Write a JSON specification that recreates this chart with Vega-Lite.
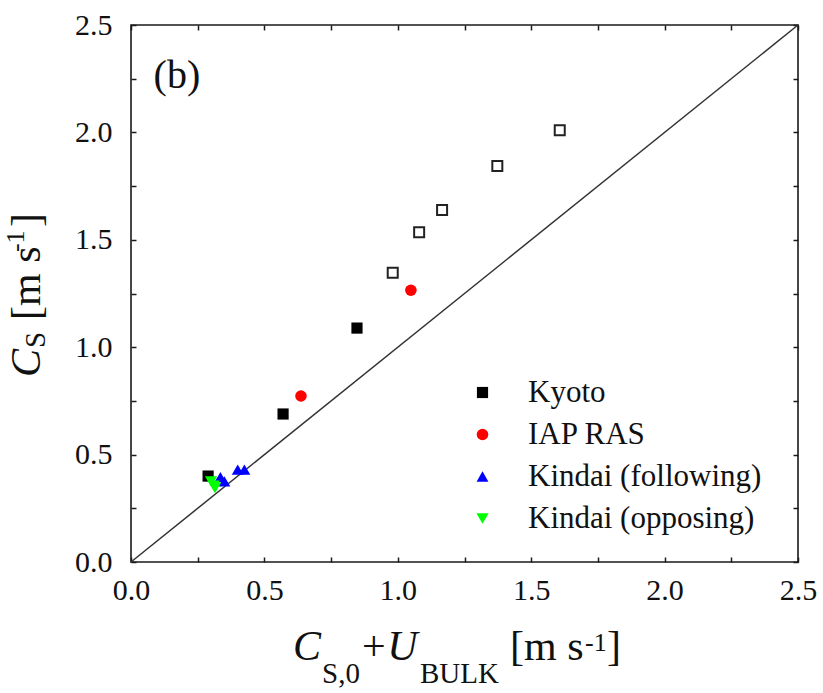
{
  "$schema": "https://vega.github.io/schema/vega-lite/v6.json",
  "width": 667,
  "height": 537,
  "autosize": {"type": "none"},
  "padding": {"left": 131, "top": 25, "right": 25, "bottom": 131},
  "background": "white",
  "config": {
    "view": {"stroke": "#1a1a1a", "strokeWidth": 1.6},
    "font": "Times New Roman, Liberation Serif, serif",
    "legend": {"labelFont": "Times New Roman, Liberation Serif, serif"},
    "text": {"font": "Times New Roman, Liberation Serif, serif"}
  },
  "datasets": {
    "line": [{"x": 0, "y": 0}, {"x": 2.5, "y": 2.5}],
    "pts": [
      {"x": 0.289, "y": 0.40, "series": "Kyoto"},
      {"x": 0.570, "y": 0.689, "series": "Kyoto"},
      {"x": 0.847, "y": 1.089, "series": "Kyoto"},
      {"x": 0.637, "y": 0.773, "series": "IAP RAS"},
      {"x": 1.049, "y": 1.265, "series": "IAP RAS"},
      {"x": 0.400, "y": 0.430, "series": "Kindai (following)"},
      {"x": 0.425, "y": 0.430, "series": "Kindai (following)"},
      {"x": 0.335, "y": 0.395, "series": "Kindai (following)"},
      {"x": 0.350, "y": 0.375, "series": "Kindai (following)"},
      {"x": 0.300, "y": 0.375, "series": "Kindai (opposing)"},
      {"x": 0.310, "y": 0.355, "series": "Kindai (opposing)"},
      {"x": 0.315, "y": 0.345, "series": "Kindai (opposing)"}
    ],
    "open": [
      {"x": 0.981, "y": 1.347},
      {"x": 1.080, "y": 1.535},
      {"x": 1.166, "y": 1.639},
      {"x": 1.373, "y": 1.844},
      {"x": 1.607, "y": 2.010}
    ],
    "panel": [{"text": "(b)", "x": 0.172, "y": 2.207}],
    "xtitle": [
      {"kind": "it", "text": "C", "x": 0.607, "y": -0.456},
      {"kind": "sub", "text": "S,0", "x": 0.716, "y": -0.563},
      {"kind": "rm", "text": "+", "x": 0.866, "y": -0.456},
      {"kind": "it", "text": "U", "x": 0.960, "y": -0.456},
      {"kind": "sub", "text": "BULK", "x": 1.083, "y": -0.563},
      {"kind": "rm", "text": "[m s", "x": 1.421, "y": -0.456},
      {"kind": "sup", "text": "-1", "x": 1.702, "y": -0.414},
      {"kind": "rm", "text": "]", "x": 1.784, "y": -0.456}
    ],
    "ytitle": [
      {"kind": "it", "text": "C", "x": -0.341, "y": 0.861},
      {"kind": "sub", "text": "S", "x": -0.322, "y": 0.996},
      {"kind": "rm", "text": "[m s", "x": -0.341, "y": 1.127},
      {"kind": "sup", "text": "-1", "x": -0.401, "y": 1.443},
      {"kind": "rm", "text": "]", "x": -0.341, "y": 1.56}
    ]
  },
  "resolve": {"axis": {"x": "independent", "y": "independent"}},
  "layer": [
    {
      "data": {"name": "line"},
      "mark": {"type": "line", "color": "#333333", "strokeWidth": 1.5},
      "encoding": {
        "x": {"field": "x", "type": "quantitative", "scale": {"domain": [0, 2.5], "nice": false, "zero": false},
          "axis": {"orient": "top", "values": [0, 0.25, 0.5, 0.75, 1, 1.25, 1.5, 1.75, 2, 2.25, 2.5], "labels": false, "domain": false, "grid": false, "title": null, "tickSize": -5, "tickColor": "#1a1a1a", "tickWidth": 1.5}},
        "y": {"field": "y", "type": "quantitative", "scale": {"domain": [0, 2.5], "nice": false, "zero": false},
          "axis": {"orient": "right", "values": [0, 0.25, 0.5, 0.75, 1, 1.25, 1.5, 1.75, 2, 2.25, 2.5], "labels": false, "domain": false, "grid": false, "title": null, "tickSize": -5, "tickColor": "#1a1a1a", "tickWidth": 1.5}}
      }
    },
    {
      "data": {"name": "open"},
      "mark": {"type": "point", "shape": "square", "filled": false, "stroke": "#222222", "strokeWidth": 2, "size": 100, "opacity": 1},
      "encoding": {
        "x": {"field": "x", "type": "quantitative", "scale": {"domain": [0, 2.5], "nice": false, "zero": false}, "axis": null},
        "y": {"field": "y", "type": "quantitative", "scale": {"domain": [0, 2.5], "nice": false, "zero": false}, "axis": null}
      }
    },
    {
      "data": {"name": "pts"},
      "mark": {"type": "point", "filled": true, "opacity": 1},
      "encoding": {
        "x": {"field": "x", "type": "quantitative", "scale": {"domain": [0, 2.5], "nice": false, "zero": false},
          "axis": {"orient": "bottom", "values": [0, 0.25, 0.5, 0.75, 1, 1.25, 1.5, 1.75, 2, 2.25, 2.5], "labelExpr": "(datum.value * 2) % 1 == 0 ? format(datum.value, '.1f') : ''", "domain": false, "grid": false, "title": null, "tickSize": -5, "tickColor": "#1a1a1a", "tickWidth": 1.5, "labelPadding": 18, "labelFont": "Liberation Serif", "labelFontSize": 30, "labelColor": "#111111", "labelOverlap": false, "labelFlush": false, "labelBound": false,
            "encode": {"labels": {"update": {"font": {"value": "Liberation Serif"}}}}}},
        "y": {"field": "y", "type": "quantitative", "scale": {"domain": [0, 2.5], "nice": false, "zero": false},
          "axis": {"orient": "left", "values": [0, 0.25, 0.5, 0.75, 1, 1.25, 1.5, 1.75, 2, 2.25, 2.5], "labelExpr": "(datum.value * 2) % 1 == 0 ? format(datum.value, '.1f') : ''", "domain": false, "grid": false, "title": null, "tickSize": -5, "tickColor": "#1a1a1a", "tickWidth": 1.5, "labelPadding": 24, "labelFont": "Liberation Serif", "labelFontSize": 30, "labelColor": "#111111", "labelOverlap": false, "labelFlush": false, "labelBound": false,
            "encode": {"labels": {"update": {"font": {"value": "Liberation Serif"}}}}}},
        "size": {"field": "series", "type": "nominal",
          "scale": {"domain": ["Kyoto", "IAP RAS", "Kindai (following)", "Kindai (opposing)"], "range": [125, 150, 210, 210]},
          "legend": null},
        "color": {"field": "series", "type": "nominal",
          "scale": {"domain": ["Kyoto", "IAP RAS", "Kindai (following)", "Kindai (opposing)"], "range": ["#000000", "#ff0000", "#0000ff", "#00ff00"]},
          "legend": {"title": null, "orient": "none", "legendX": 336, "legendY": 352, "labelFontSize": 31, "labelColor": "#111111", "labelLimit": 500, "symbolSize": 130, "labelOffset": 30, "rowPadding": 10, "padding": 0, "symbolStrokeWidth": 0}},
        "shape": {"field": "series", "type": "nominal",
          "scale": {"domain": ["Kyoto", "IAP RAS", "Kindai (following)", "Kindai (opposing)"], "range": ["square", "circle", "triangle-up", "triangle-down"]},
          "legend": {"title": null, "orient": "none", "legendX": 336, "legendY": 352, "labelFontSize": 31, "labelColor": "#111111", "labelLimit": 500, "symbolSize": 130, "labelOffset": 30, "rowPadding": 10, "padding": 0, "symbolStrokeWidth": 0}}
      }
    },
    {
      "data": {"name": "panel"},
      "mark": {"type": "text", "fontSize": 40, "align": "center", "baseline": "alphabetic", "color": "#111111"},
      "encoding": {
        "x": {"field": "x", "type": "quantitative", "scale": {"domain": [0, 2.5], "nice": false, "zero": false}, "axis": null},
        "y": {"field": "y", "type": "quantitative", "scale": {"domain": [0, 2.5], "nice": false, "zero": false}, "axis": null},
        "text": {"field": "text"}
      }
    },
    {
      "data": {"name": "xtitle"},
      "transform": [{"filter": "datum.kind == 'it'"}],
      "mark": {"type": "text", "fontSize": 42, "fontStyle": "italic", "align": "left", "baseline": "alphabetic", "color": "#111111"},
      "encoding": {
        "x": {"field": "x", "type": "quantitative", "scale": {"domain": [0, 2.5], "nice": false, "zero": false}, "axis": null},
        "y": {"field": "y", "type": "quantitative", "scale": {"domain": [0, 2.5], "nice": false, "zero": false}, "axis": null},
        "text": {"field": "text"}
      }
    },
    {
      "data": {"name": "xtitle"},
      "transform": [{"filter": "datum.kind == 'rm'"}],
      "mark": {"type": "text", "fontSize": 42, "align": "left", "baseline": "alphabetic", "color": "#111111"},
      "encoding": {
        "x": {"field": "x", "type": "quantitative", "scale": {"domain": [0, 2.5], "nice": false, "zero": false}, "axis": null},
        "y": {"field": "y", "type": "quantitative", "scale": {"domain": [0, 2.5], "nice": false, "zero": false}, "axis": null},
        "text": {"field": "text"}
      }
    },
    {
      "data": {"name": "xtitle"},
      "transform": [{"filter": "datum.kind == 'sub'"}],
      "mark": {"type": "text", "fontSize": 29, "align": "left", "baseline": "alphabetic", "color": "#111111"},
      "encoding": {
        "x": {"field": "x", "type": "quantitative", "scale": {"domain": [0, 2.5], "nice": false, "zero": false}, "axis": null},
        "y": {"field": "y", "type": "quantitative", "scale": {"domain": [0, 2.5], "nice": false, "zero": false}, "axis": null},
        "text": {"field": "text"}
      }
    },
    {
      "data": {"name": "xtitle"},
      "transform": [{"filter": "datum.kind == 'sup'"}],
      "mark": {"type": "text", "fontSize": 26, "align": "left", "baseline": "alphabetic", "color": "#111111"},
      "encoding": {
        "x": {"field": "x", "type": "quantitative", "scale": {"domain": [0, 2.5], "nice": false, "zero": false}, "axis": null},
        "y": {"field": "y", "type": "quantitative", "scale": {"domain": [0, 2.5], "nice": false, "zero": false}, "axis": null},
        "text": {"field": "text"}
      }
    },
    {
      "data": {"name": "ytitle"},
      "transform": [{"filter": "datum.kind == 'it'"}],
      "mark": {"type": "text", "fontSize": 42, "fontStyle": "italic", "angle": 270, "align": "left", "baseline": "alphabetic", "color": "#111111"},
      "encoding": {
        "x": {"field": "x", "type": "quantitative", "scale": {"domain": [0, 2.5], "nice": false, "zero": false}, "axis": null},
        "y": {"field": "y", "type": "quantitative", "scale": {"domain": [0, 2.5], "nice": false, "zero": false}, "axis": null},
        "text": {"field": "text"}
      }
    },
    {
      "data": {"name": "ytitle"},
      "transform": [{"filter": "datum.kind == 'rm'"}],
      "mark": {"type": "text", "fontSize": 42, "angle": 270, "align": "left", "baseline": "alphabetic", "color": "#111111"},
      "encoding": {
        "x": {"field": "x", "type": "quantitative", "scale": {"domain": [0, 2.5], "nice": false, "zero": false}, "axis": null},
        "y": {"field": "y", "type": "quantitative", "scale": {"domain": [0, 2.5], "nice": false, "zero": false}, "axis": null},
        "text": {"field": "text"}
      }
    },
    {
      "data": {"name": "ytitle"},
      "transform": [{"filter": "datum.kind == 'sub'"}],
      "mark": {"type": "text", "fontSize": 29, "angle": 270, "align": "left", "baseline": "alphabetic", "color": "#111111"},
      "encoding": {
        "x": {"field": "x", "type": "quantitative", "scale": {"domain": [0, 2.5], "nice": false, "zero": false}, "axis": null},
        "y": {"field": "y", "type": "quantitative", "scale": {"domain": [0, 2.5], "nice": false, "zero": false}, "axis": null},
        "text": {"field": "text"}
      }
    },
    {
      "data": {"name": "ytitle"},
      "transform": [{"filter": "datum.kind == 'sup'"}],
      "mark": {"type": "text", "fontSize": 26, "angle": 270, "align": "left", "baseline": "alphabetic", "color": "#111111"},
      "encoding": {
        "x": {"field": "x", "type": "quantitative", "scale": {"domain": [0, 2.5], "nice": false, "zero": false}, "axis": null},
        "y": {"field": "y", "type": "quantitative", "scale": {"domain": [0, 2.5], "nice": false, "zero": false}, "axis": null},
        "text": {"field": "text"}
      }
    }
  ]
}
